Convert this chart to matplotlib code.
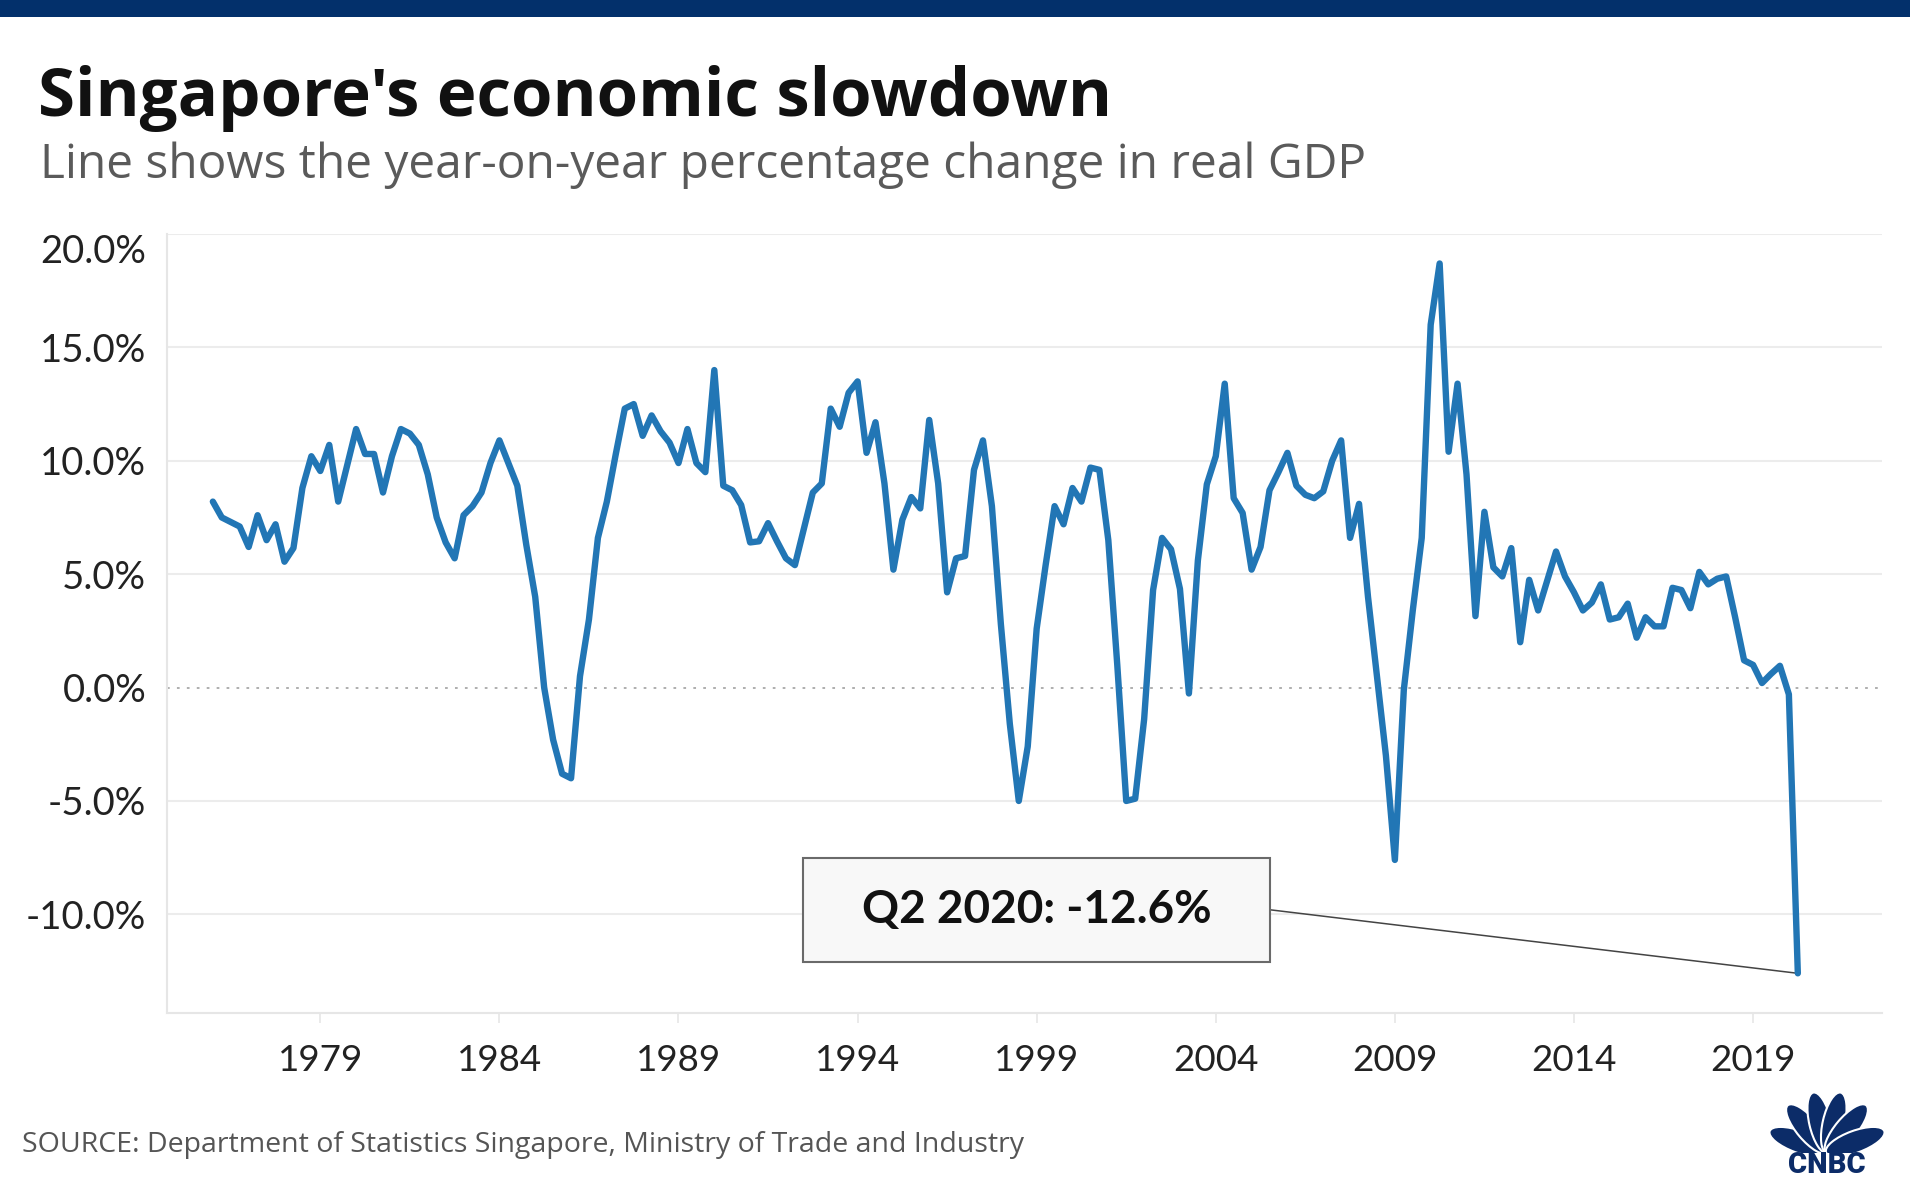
import matplotlib
matplotlib.use("Agg")
import matplotlib.pyplot as plt
from matplotlib.patches import Rectangle, Ellipse
import numpy as np

plt.rcParams['font.family'] = ['Lato', 'DejaVu Sans']

# ---------------- data (year-on-year % change in real GDP, quarterly) ----------------
start_year = 1976
gdp_1976_1980 = [8.2, 7.5, 7.3, 7.1, 6.2, 7.6, 6.5, 7.2, 5.55, 6.15,
                 8.8, 10.2, 9.55, 10.7, 8.2, 9.8, 11.4, 10.3, 10.3, 8.6]
gdp_1981_1985 = [10.2, 11.4, 11.2, 10.7, 9.4, 7.5, 6.4, 5.7, 7.6, 8.0,
                 8.6, 9.9, 10.9, 9.9, 8.9, 6.3, 4.0, 0.0, -2.3, -3.8]
gdp_1986_1990 = [-4.0, 0.5, 3.0, 6.6, 8.2, 10.3, 12.3, 12.5, 11.1, 12.0,
                 11.3, 10.8, 9.9, 11.4, 9.9, 9.5, 14.0, 8.9, 8.7, 8.05]
gdp_1991_1995 = [6.4, 6.45, 7.25, 6.45, 5.7, 5.4, 7.0, 8.6, 9.0, 12.3,
                 11.5, 13.0, 13.5, 10.35, 11.7, 9.0, 5.2, 7.4, 8.4, 7.9]
gdp_1996_2000 = [11.8, 9.0, 4.2, 5.7, 5.8, 9.6, 10.9, 8.0, 2.8, -1.6,
                 -5.0, -2.6, 2.6, 5.4, 8.0, 7.2, 8.8, 8.2, 9.7, 9.6]
gdp_2001_2005 = [6.5, 1.0, -5.0, -4.9, -1.4, 4.3, 6.6, 6.1, 4.35, -0.26,
                 5.6, 8.96, 10.2, 13.4, 8.35, 7.7, 5.2, 6.2, 8.7, 9.5]
gdp_2006_2010 = [10.35, 8.9, 8.5, 8.35, 8.65, 10.0, 10.9, 6.6, 8.1, 4.0,
                 0.5, -3.0, -7.6, -0.1, 3.4, 6.6, 16.0, 18.7, 10.4, 13.4]
gdp_2011_2015 = [9.4, 3.15, 7.75, 5.3, 4.9, 6.15, 2.0, 4.75, 3.4, 4.7,
                 6.0, 4.9, 4.2, 3.4, 3.75, 4.55, 3.0, 3.1, 3.7, 2.2]
gdp_2016_2020 = [3.1, 2.7, 2.7, 4.4, 4.3, 3.5, 5.1, 4.55, 4.8, 4.9,
                 3.1, 1.2, 1.0, 0.2, 0.6, 0.96, -0.3, -12.6]

gdp = np.array(gdp_1976_1980 + gdp_1981_1985 + gdp_1986_1990 + gdp_1991_1995 +
               gdp_1996_2000 + gdp_2001_2005 + gdp_2006_2010 + gdp_2011_2015 +
               gdp_2016_2020)
quarter_x = start_year + np.arange(len(gdp)) / 4.0   # quarter start, in years

x_tick_years = [1979, 1984, 1989, 1994, 1999, 2004, 2009, 2014, 2019]
x_tick_labels = [str(y) for y in x_tick_years]
y_ticks = [-10, -5, 0, 5, 10, 15, 20]
y_tick_labels = [f"{v:.1f}%" for v in y_ticks]

title = "Singapore's economic slowdown"
subtitle = "Line shows the year-on-year percentage change in real GDP"
source = "SOURCE: Department of Statistics Singapore, Ministry of Trade and Industry"
note_text = "Q2 2020: -12.6%"

# ---------------- figure ----------------
W, H = 1910, 1187
fig = plt.figure(figsize=(W / 100, H / 100), dpi=100)
fig.patch.set_facecolor('white')

# top navy band
fig.patches.append(Rectangle((0, 1 - 17 / H), 1, 17 / H, transform=fig.transFigure,
                             facecolor='#03306b', edgecolor='none', zorder=0))

wide = ['Open Sans', 'DejaVu Sans']
fig.text(38 / W, 1 - 116 / H, title, fontsize=48.3, fontweight='bold',
         color='#111111', va='baseline', ha='left', family=wide)
fig.text(40 / W, 1 - 178 / H, subtitle, fontsize=34.5, color='#5a5a5a',
         va='baseline', ha='left', family=wide)
fig.text(22 / W, 1 - 1152 / H, source, fontsize=20.5, color='#555555',
         va='baseline', ha='left', family=wide)

# axes
ax_left, ax_right = 167, 1882
ax_top, ax_bottom = 234, 1013
ax = fig.add_axes([ax_left / W, 1 - ax_bottom / H, (ax_right - ax_left) / W,
                   (ax_bottom - ax_top) / H])
ax.set_xlim(1974.72, 2022.6)
ax.set_ylim(-14.35, 20.0)

for v in y_ticks:
    if v == 0:
        ax.axhline(v, color='#a8a8a8', lw=1.3, ls=(0, (1.5, 4)), zorder=1)
    else:
        ax.axhline(v, color='#ececec', lw=1.5, zorder=1)

ax.plot(quarter_x, gdp, color='#2276b5', lw=4.6, solid_joinstyle='round',
        solid_capstyle='round', zorder=3)

for s in ['top', 'right']:
    ax.spines[s].set_visible(False)
for s in ['left', 'bottom']:
    ax.spines[s].set_color('#e6e6e6')
    ax.spines[s].set_linewidth(1.5)

ax.set_yticks(y_ticks)
ax.set_yticklabels(y_tick_labels)
ax.set_xticks(x_tick_years)
ax.set_xticklabels(x_tick_labels)
ax.tick_params(axis='y', length=0, pad=15, labelsize=27.5, labelcolor='#222222')
ax.tick_params(axis='x', length=7, width=1.2, color='#e6e6e6', pad=15,
               labelsize=26.5, labelcolor='#222222')
# the top label sits inside the plot frame
lbl = ax.get_yticklabels()[-1]
lbl.set_verticalalignment('top')
lbl.set_y(20.0)

# annotation box for the last value
x_last, y_last = quarter_x[-1], gdp[-1]
box_x0, box_x1 = 1992.48, 2005.52
box_y0, box_y1 = -12.09, -7.51
ax.add_patch(Rectangle((box_x0, box_y0), box_x1 - box_x0, box_y1 - box_y0,
                       facecolor='#f8f8f8', edgecolor='#6a6a6a', lw=1.5, zorder=4))
ax.text((box_x0 + box_x1) / 2, (box_y0 + box_y1) / 2, note_text, fontsize=33,
        fontweight='bold', color='#111111', ha='center', va='center', zorder=5)
ax.plot([box_x1, x_last], [(box_y0 + box_y1) / 2, y_last], color='#444444',
        lw=1.1, zorder=2)

# CNBC logo (simplified peacock)
lax = fig.add_axes([1770 / W, 1 - 1180 / H, 114 / W, 90 / H])
lax.set_xlim(0, 114)
lax.set_ylim(0, 90)
lax.axis('off')
navy = '#0c2c68'
cx, cy = 57, 28
for ang in [160, 130, 103, 77, 50, 20]:
    r = np.deg2rad(ang)
    ex = cx + 30 * np.cos(r)
    ey = cy + 30 * np.sin(r)
    lax.add_patch(Ellipse((ex, ey), 22, 62, angle=ang - 90, facecolor=navy,
                          edgecolor='white', lw=1.5))
lax.add_patch(Rectangle((0, 0), 114, 27, facecolor='white', edgecolor='none'))
lax.text(57, 1, "CNBC", fontsize=21, fontweight='black', color=navy,
         ha='center', va='bottom', family=['Roboto', 'DejaVu Sans'])

fig.savefig('out.png', dpi=100, facecolor='white')
